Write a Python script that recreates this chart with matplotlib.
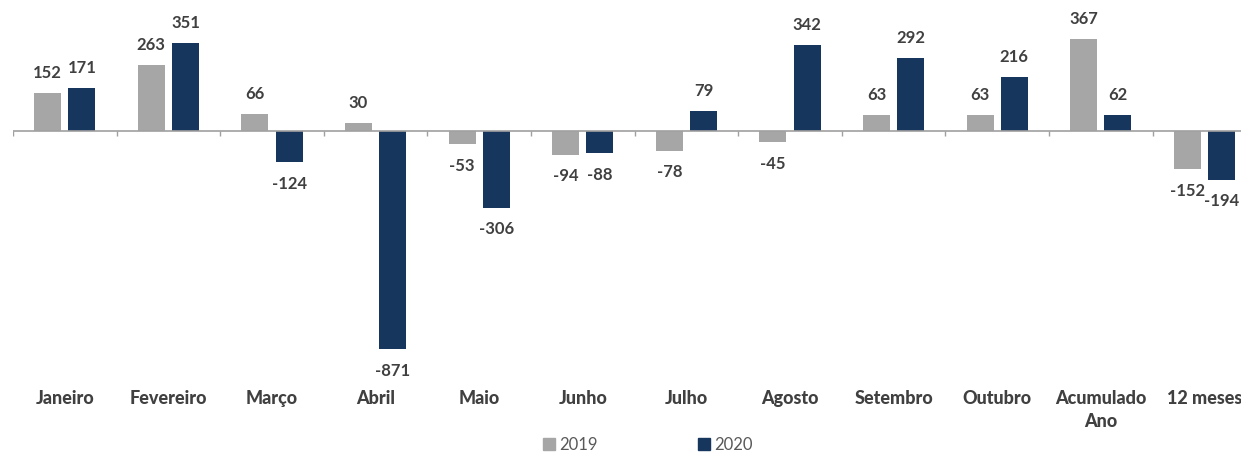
import matplotlib
matplotlib.use("Agg")
import matplotlib.pyplot as plt
import numpy as np
from matplotlib.patches import Patch

categories = ["Janeiro", "Fevereiro", "Março", "Abril", "Maio", "Junho", "Julho",
              "Agosto", "Setembro", "Outubro", "Acumulado\nAno", "12 meses"]
values_2019 = [152, 263, 66, 30, -53, -94, -78, -45, 63, 63, 367, -152]
values_2020 = [171, 351, -124, -871, -306, -88, 79, 342, 292, 216, 62, -194]
series_names = ["2019", "2020"]

c2019 = "#A6A6A6"
c2020 = "#17365D"
txt = "#404040"
font = "Lato"

W, H = 1241, 453
fig = plt.figure(figsize=(W / 100, H / 100), dpi=100)
# axes: left px 13, top px 5.6, bottom px 381.7
ax = fig.add_axes([13 / W, 1 - 381.7 / H, 1 - 13 / W, (381.7 - 5.6) / H])

x = np.arange(len(categories))
bw = 0.26
off = 0.165
b1 = ax.bar(x - off, values_2019, bw, color=c2019, zorder=2)
b2 = ax.bar(x + off, values_2020, bw, color=c2020, zorder=2)

for bars, vals in ((b1, values_2019), (b2, values_2020)):
    for rect, v in zip(bars, vals):
        cx = rect.get_x() + rect.get_width() / 2
        ax.annotate(f"{v}", (cx, v), xytext=(0, 14.4 if v >= 0 else -15.5),
                    textcoords="offset points", ha="center", va="center",
                    fontsize=12, color=txt, fontfamily=font, fontweight="bold")

ax.set_xlim(-0.5, (W - 13) / 103.6 - 0.5)
ax.set_ylim(-1000, 500)
ax.axhline(0, color="#A0A0A0", lw=1.2, zorder=3)
bounds = np.arange(len(categories) + 1) - 0.5
ax.vlines(bounds, -20, 0, color="#A0A0A0", lw=1.0, zorder=3)

for s in ax.spines.values():
    s.set_visible(False)
ax.set_yticks([])
ax.set_xticks(x)
ax.set_xticklabels(categories, fontsize=13, fontweight="black", color=txt,
                   fontfamily=font, va="top", linespacing=1.45)
ax.tick_params(axis="x", length=0, pad=6)

handles = [Patch(color=c2019), Patch(color=c2020)]
leg = fig.legend(handles, series_names, loc="center", bbox_to_anchor=(648 / W, 1 - 445 / H),
                 ncol=2, frameon=False, handlelength=0.7, handleheight=0.7,
                 handletextpad=0.3, columnspacing=6.0,
                 prop={"family": font, "size": 12})
for t in leg.get_texts():
    t.set_color("#595959")

fig.savefig("out.png", dpi=100)
